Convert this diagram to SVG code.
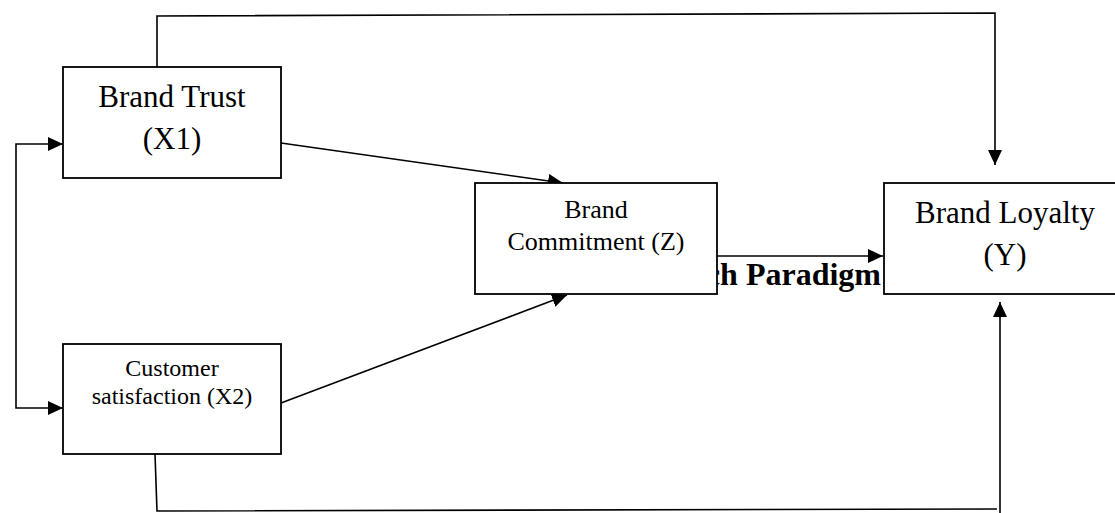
<svg xmlns="http://www.w3.org/2000/svg" width="1115" height="513" viewBox="0 0 1115 513">
<defs>
<style>
.box{fill:#fff;stroke:#000;stroke-width:1.8}
.ln{fill:none;stroke:#000;stroke-width:1.6}
.t{font-family:"Liberation Serif","Times New Roman",serif;fill:#000;text-anchor:middle}
.big{font-size:31px}
.mid{font-size:26px}
.sm{font-size:24px}
.bold{font-family:"Liberation Serif","Times New Roman",serif;font-weight:bold;font-size:32px;fill:#000}
</style>
<marker id="arr" markerUnits="userSpaceOnUse" markerWidth="16" markerHeight="14" refX="15" refY="7" orient="auto">
<path d="M0,0 L15,7 L0,14 z" fill="#000"/>
</marker>
</defs>
<rect width="1115" height="513" fill="#fff"/>
<text class="bold" x="881" y="285" text-anchor="end">ch Paradigm</text>
<g id="connectors">
<path class="ln" d="M157,67 L157,16 L995,13 L995,165" marker-end="url(#arr)"/>
<path class="ln" d="M16,276 L16,144 L63,144" marker-end="url(#arr)"/>
<path class="ln" d="M16,276 L16,408 L63,408" marker-end="url(#arr)"/>
<path class="ln" d="M281,143 L563,183" marker-end="url(#arr)"/>
<path class="ln" d="M281,403 L567,295" marker-end="url(#arr)"/>
<path class="ln" d="M717,256 L883,256" marker-end="url(#arr)"/>
<path class="ln" d="M155,454 L157,511 L997,509"/>
<path class="ln" d="M1000,513 L1000,302" marker-end="url(#arr)"/>
</g>
<g id="brand-trust">
<rect class="box" x="63" y="67" width="218" height="111"/>
<text class="t big" x="172" y="107">Brand Trust</text>
<text class="t big" x="172" y="149">(X1)</text>
</g>
<g id="customer-satisfaction">
<rect class="box" x="63" y="344" width="218" height="110"/>
<text class="t sm" x="172" y="376">Customer</text>
<text class="t sm" x="172" y="404">satisfaction (X2)</text>
</g>
<g id="brand-commitment">
<rect class="box" x="475" y="183" width="242" height="111"/>
<text class="t mid" x="596" y="218">Brand</text>
<text class="t mid" x="596" y="250">Commitment (Z)</text>
</g>
<g id="brand-loyalty">
<rect class="box" x="884" y="183" width="240" height="111"/>
<text class="t big" x="1005" y="223">Brand Loyalty</text>
<text class="t big" x="1005" y="265">(Y)</text>
</g>
</svg>
